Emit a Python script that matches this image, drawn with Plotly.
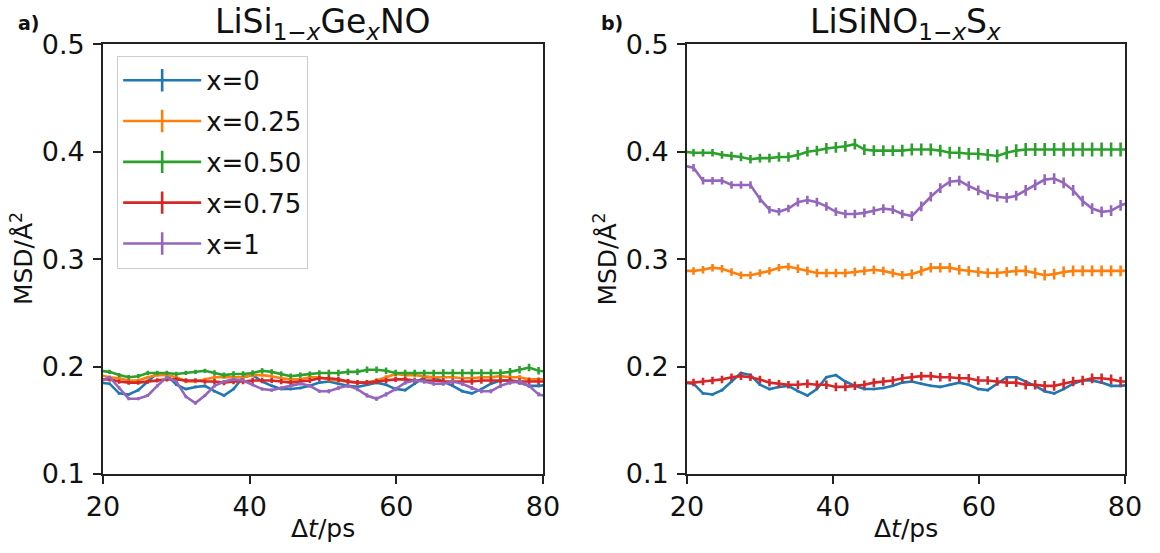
import plotly.graph_objects as go

# Lag times (ps) of the MSD samples
t = [19.6, 20.9, 22.2, 23.5, 24.8, 26.1, 27.4, 28.7, 30.0, 31.3, 32.6, 33.9,
     35.2, 36.5, 37.8, 39.1, 40.4, 41.7, 43.0, 44.3, 45.6, 46.9, 48.2, 49.5,
     50.8, 52.1, 53.4, 54.7, 56.0, 57.3, 58.6, 59.9, 61.2, 62.5, 63.8, 65.1,
     66.4, 67.7, 69.0, 70.3, 71.6, 72.9, 74.2, 75.5, 76.8, 78.1, 79.4, 80.7]

# x = 0 is the parent LiSiNO, shared by both panels
msd_x0 = [0.185, 0.184, 0.175, 0.174, 0.178, 0.186, 0.194, 0.192, 0.183, 0.179, 0.181, 0.182,
          0.177, 0.173, 0.179, 0.190, 0.192, 0.186, 0.182, 0.179, 0.179, 0.180, 0.182, 0.185,
          0.186, 0.184, 0.182, 0.181, 0.183, 0.185, 0.183, 0.179, 0.178, 0.184, 0.190, 0.190,
          0.186, 0.182, 0.177, 0.175, 0.179, 0.184, 0.187, 0.187, 0.185, 0.182, 0.182, 0.183]
err_x0 = [0.0012, 0.0012, 0.0012, 0.0012, 0.0012, 0.0012, 0.0012, 0.0012, 0.0012, 0.0012, 0.0012, 0.0012,
          0.0012, 0.0012, 0.0012, 0.0012, 0.0012, 0.0012, 0.0012, 0.0012, 0.0012, 0.0012, 0.0012, 0.0012,
          0.0012, 0.0012, 0.0012, 0.0012, 0.0012, 0.0012, 0.0012, 0.0012, 0.0012, 0.0012, 0.0012, 0.0012,
          0.0012, 0.0012, 0.0012, 0.0012, 0.0012, 0.0012, 0.0012, 0.0012, 0.0012, 0.0012, 0.0012, 0.0012]

# Panel a) LiSi(1-x)Ge(x)NO
ge_025 = [0.192, 0.190, 0.189, 0.187, 0.187, 0.190, 0.192, 0.192, 0.190, 0.186, 0.186, 0.188,
          0.190, 0.190, 0.190, 0.190, 0.192, 0.192, 0.191, 0.189, 0.188, 0.188, 0.190, 0.190,
          0.188, 0.187, 0.186, 0.185, 0.185, 0.187, 0.190, 0.193, 0.192, 0.192, 0.191, 0.190,
          0.190, 0.190, 0.189, 0.189, 0.190, 0.190, 0.191, 0.190, 0.190, 0.188, 0.188, 0.188]
ge_050 = [0.196, 0.195, 0.192, 0.190, 0.191, 0.194, 0.194, 0.194, 0.193, 0.194, 0.195, 0.196,
          0.194, 0.192, 0.193, 0.193, 0.194, 0.196, 0.195, 0.193, 0.191, 0.192, 0.193, 0.194,
          0.194, 0.194, 0.195, 0.195, 0.197, 0.197, 0.196, 0.194, 0.194, 0.194, 0.194, 0.194,
          0.194, 0.194, 0.194, 0.194, 0.194, 0.194, 0.194, 0.195, 0.197, 0.199, 0.196, 0.195]
ge_075 = [0.188, 0.188, 0.186, 0.185, 0.185, 0.186, 0.187, 0.188, 0.188, 0.187, 0.187, 0.186,
          0.186, 0.185, 0.186, 0.186, 0.187, 0.187, 0.187, 0.186, 0.185, 0.186, 0.187, 0.189,
          0.189, 0.188, 0.186, 0.185, 0.185, 0.186, 0.187, 0.188, 0.188, 0.187, 0.187, 0.187,
          0.186, 0.186, 0.186, 0.186, 0.187, 0.187, 0.187, 0.187, 0.186, 0.186, 0.186, 0.186]
ge_100 = [0.186, 0.190, 0.180, 0.170, 0.170, 0.173, 0.182, 0.190, 0.186, 0.172, 0.166, 0.173,
          0.182, 0.186, 0.188, 0.187, 0.183, 0.179, 0.178, 0.180, 0.182, 0.184, 0.182, 0.177,
          0.177, 0.180, 0.182, 0.179, 0.173, 0.170, 0.174, 0.179, 0.185, 0.187, 0.186, 0.184,
          0.184, 0.186, 0.184, 0.180, 0.177, 0.177, 0.182, 0.185, 0.186, 0.182, 0.174, 0.172]
err_ge_025 = [0.0015, 0.0015, 0.0015, 0.0015, 0.0015, 0.0015, 0.0015, 0.0015, 0.0015, 0.0015, 0.0015, 0.0015,
              0.0015, 0.0015, 0.0015, 0.0015, 0.0015, 0.0015, 0.0015, 0.0015, 0.0015, 0.0015, 0.0015, 0.0015,
              0.002, 0.002, 0.002, 0.002, 0.002, 0.002, 0.002, 0.002, 0.002, 0.002, 0.002, 0.002,
              0.002, 0.002, 0.002, 0.002, 0.002, 0.002, 0.002, 0.002, 0.002, 0.002, 0.002, 0.002]
err_ge_050 = [0.002, 0.002, 0.002, 0.002, 0.002, 0.002, 0.002, 0.002, 0.002, 0.002, 0.002, 0.002,
              0.0025, 0.0025, 0.0025, 0.0025, 0.0025, 0.0025, 0.0025, 0.0025, 0.0025, 0.0025, 0.0025, 0.0025,
              0.003, 0.003, 0.003, 0.003, 0.003, 0.003, 0.003, 0.003, 0.003, 0.003, 0.003, 0.003,
              0.0035, 0.0035, 0.0035, 0.0035, 0.0035, 0.0035, 0.0035, 0.0035, 0.0035, 0.0035, 0.0035, 0.0035]
err_ge_075 = [0.002, 0.002, 0.002, 0.002, 0.002, 0.002, 0.002, 0.002, 0.002, 0.002, 0.002, 0.002,
              0.0025, 0.0025, 0.0025, 0.0025, 0.0025, 0.0025, 0.0025, 0.0025, 0.0025, 0.0025, 0.0025, 0.0025,
              0.0025, 0.0025, 0.0025, 0.0025, 0.0025, 0.0025, 0.0025, 0.0025, 0.0025, 0.0025, 0.0025, 0.0025,
              0.003, 0.003, 0.003, 0.003, 0.003, 0.003, 0.003, 0.003, 0.003, 0.003, 0.003, 0.003]
err_ge_100 = [0.0015, 0.0015, 0.0015, 0.0015, 0.0015, 0.0015, 0.0015, 0.0015, 0.0015, 0.0015, 0.0015, 0.0015,
              0.0015, 0.0015, 0.0015, 0.0015, 0.0015, 0.0015, 0.0015, 0.0015, 0.0015, 0.0015, 0.0015, 0.0015,
              0.002, 0.002, 0.002, 0.002, 0.002, 0.002, 0.002, 0.002, 0.002, 0.002, 0.002, 0.002,
              0.002, 0.002, 0.002, 0.002, 0.002, 0.002, 0.002, 0.002, 0.002, 0.002, 0.002, 0.002]

# Panel b) LiSiNO(1-x)S(x)
s_025 = [0.289, 0.289, 0.290, 0.292, 0.291, 0.288, 0.285, 0.285, 0.287, 0.289, 0.292, 0.293,
         0.291, 0.289, 0.287, 0.287, 0.287, 0.287, 0.288, 0.289, 0.290, 0.289, 0.287, 0.285,
         0.286, 0.289, 0.292, 0.292, 0.292, 0.290, 0.289, 0.288, 0.287, 0.287, 0.288, 0.289,
         0.289, 0.287, 0.285, 0.286, 0.288, 0.289, 0.289, 0.289, 0.289, 0.289, 0.289, 0.289]
s_050 = [0.400, 0.399, 0.399, 0.399, 0.397, 0.396, 0.395, 0.393, 0.394, 0.394, 0.395, 0.395,
         0.397, 0.400, 0.401, 0.403, 0.404, 0.405, 0.407, 0.402, 0.401, 0.401, 0.401, 0.401,
         0.402, 0.402, 0.402, 0.401, 0.399, 0.399, 0.398, 0.398, 0.397, 0.396, 0.399, 0.401,
         0.402, 0.402, 0.402, 0.402, 0.402, 0.402, 0.402, 0.402, 0.402, 0.402, 0.402, 0.402]
s_075 = [0.185, 0.185, 0.186, 0.187, 0.188, 0.190, 0.191, 0.190, 0.188, 0.185, 0.184, 0.183,
         0.183, 0.184, 0.183, 0.183, 0.181, 0.181, 0.182, 0.183, 0.185, 0.186, 0.187, 0.189,
         0.190, 0.191, 0.191, 0.190, 0.190, 0.189, 0.189, 0.187, 0.187, 0.186, 0.185, 0.185,
         0.183, 0.183, 0.182, 0.182, 0.184, 0.186, 0.187, 0.189, 0.189, 0.188, 0.186, 0.186]
s_100 = [0.387, 0.385, 0.373, 0.373, 0.373, 0.369, 0.369, 0.369, 0.356, 0.346, 0.344, 0.347,
         0.353, 0.355, 0.353, 0.349, 0.344, 0.342, 0.342, 0.343, 0.345, 0.347, 0.346, 0.342,
         0.340, 0.349, 0.358, 0.366, 0.372, 0.373, 0.368, 0.364, 0.360, 0.358, 0.357, 0.359,
         0.364, 0.369, 0.374, 0.375, 0.371, 0.364, 0.354, 0.347, 0.344, 0.345, 0.350, 0.353]
err_s_025 = [0.0035, 0.0035, 0.0035, 0.0035, 0.0035, 0.0035, 0.0035, 0.0035, 0.0035, 0.0035, 0.0035, 0.0035,
             0.004, 0.004, 0.004, 0.004, 0.004, 0.004, 0.004, 0.004, 0.004, 0.004, 0.004, 0.004,
             0.0045, 0.0045, 0.0045, 0.0045, 0.0045, 0.0045, 0.0045, 0.0045, 0.0045, 0.0045, 0.0045, 0.0045,
             0.005, 0.005, 0.005, 0.005, 0.005, 0.005, 0.005, 0.005, 0.005, 0.005, 0.005, 0.005]
err_s_050 = [0.0035, 0.0035, 0.0035, 0.0035, 0.0035, 0.004, 0.004, 0.004, 0.004, 0.004, 0.0045, 0.0045,
             0.0045, 0.0045, 0.0045, 0.005, 0.005, 0.005, 0.005, 0.005, 0.005, 0.005, 0.005, 0.0055,
             0.0055, 0.0055, 0.0055, 0.0055, 0.0055, 0.0055, 0.0055, 0.0055, 0.0055, 0.006, 0.006, 0.006,
             0.006, 0.006, 0.006, 0.006, 0.0065, 0.0065, 0.0065, 0.0065, 0.0065, 0.0065, 0.0065, 0.0065]
err_s_075 = [0.0035, 0.0035, 0.0035, 0.0035, 0.0035, 0.0035, 0.0035, 0.0035, 0.0035, 0.0035, 0.0035, 0.0035,
             0.004, 0.004, 0.004, 0.004, 0.004, 0.004, 0.004, 0.004, 0.004, 0.004, 0.004, 0.004,
             0.004, 0.004, 0.004, 0.004, 0.004, 0.004, 0.004, 0.004, 0.004, 0.004, 0.004, 0.004,
             0.0045, 0.0045, 0.0045, 0.0045, 0.0045, 0.0045, 0.0045, 0.0045, 0.0045, 0.0045, 0.0045, 0.0045]
err_s_100 = [0.0035, 0.0035, 0.0035, 0.0035, 0.0035, 0.0035, 0.0035, 0.0035, 0.0035, 0.0035, 0.0035, 0.0035,
             0.004, 0.004, 0.004, 0.004, 0.004, 0.004, 0.004, 0.004, 0.004, 0.004, 0.004, 0.004,
             0.0045, 0.0045, 0.0045, 0.0045, 0.0045, 0.0045, 0.0045, 0.0045, 0.0045, 0.0045, 0.0045, 0.0045,
             0.005, 0.005, 0.005, 0.005, 0.005, 0.005, 0.005, 0.005, 0.005, 0.005, 0.005, 0.005]

labels = ["x=0", "x=0.25", "x=0.50", "x=0.75", "x=1"]
colors = ["#1f77b4", "#ff7f0e", "#2ca02c", "#d62728", "#9467bd"]

panel_a = [(msd_x0, err_x0), (ge_025, err_ge_025), (ge_050, err_ge_050),
           (ge_075, err_ge_075), (ge_100, err_ge_100)]
panel_b = [(msd_x0, err_x0), (s_025, err_s_025), (s_050, err_s_050),
           (s_075, err_s_075), (s_100, err_s_100)]

FONT = "DejaVu Sans"
LW = 2.6

fig = go.Figure()

for xa, ya, series in (("x", "y", panel_a), ("x2", "y2", panel_b)):
    for (vals, errs), c in zip(series, colors):
        fig.add_trace(go.Scatter(
            x=t, y=vals, xaxis=xa, yaxis=ya, mode="lines",
            line=dict(color=c, width=LW),
            error_y=dict(type="data", array=errs, visible=True,
                         color=c, thickness=LW, width=0),
            showlegend=False, hoverinfo="skip",
        ))

# Legend entries drawn as line + vertical error tick
for i, (lab, c) in enumerate(zip(labels, colors)):
    fig.add_trace(go.Scatter(
        x=[None], y=[None], mode="lines+markers", name=lab,
        legendgroup=f"g{i}",
        line=dict(color=c, width=LW),
        marker=dict(symbol="line-ns", size=27, color=c,
                    line=dict(color=c, width=LW)),
        xaxis="x", yaxis="y",
    ))

axis_common = dict(
    showline=True, mirror=True, linecolor="#222", linewidth=1.6,
    ticks="outside", ticklen=8, tickwidth=1.6, tickcolor="#222",
    showgrid=False, zeroline=False, automargin=False,
    tickfont=dict(family=FONT, size=27, color="#111"),
)

Y0, Y1 = 0.143, 0.920
fig.update_layout(
    width=1160, height=553,
    margin=dict(l=0, r=0, t=0, b=0, autoexpand=False),
    paper_bgcolor="white", plot_bgcolor="white",
    xaxis=dict(domain=[0.0888, 0.4681], range=[20, 80],
               tickvals=[20, 40, 60, 80], anchor="y", **axis_common),
    yaxis=dict(domain=[Y0, Y1], range=[0.1, 0.5], ticklabelstandoff=3,
               tickvals=[0.1, 0.2, 0.3, 0.4, 0.5], anchor="x", **axis_common),
    xaxis2=dict(domain=[0.5922, 0.9698], range=[20, 80],
                tickvals=[20, 40, 60, 80], anchor="y2", **axis_common),
    yaxis2=dict(domain=[Y0, Y1], range=[0.1, 0.5], ticklabelstandoff=3,
                tickvals=[0.1, 0.2, 0.3, 0.4, 0.5], anchor="x2", **axis_common),
    legend=dict(
        x=0.101, y=0.899, xanchor="left", yanchor="top",
        bgcolor="white", bordercolor="#cccccc", borderwidth=1,
        font=dict(family=FONT, size=26, color="#111"),
        traceorder="grouped", tracegroupgap=4,
        itemwidth=78,
    ),
    font=dict(family=FONT, color="#111"),
)

ann = []
title_font = dict(family=FONT, size=33, color="#111")
label_font = dict(family=FONT, size=25, color="#111")
ann.append(dict(text="LiSi<sub>1\u2212<i>x</i></sub>Ge<sub><i>x</i></sub>NO",
                x=0.2785, y=1.0, xref="paper", yref="paper",
                xanchor="center", yanchor="top", yshift=0,
                showarrow=False, font=title_font))
ann.append(dict(text="LiSiNO<sub>1\u2212<i>x</i></sub>S<sub><i>x</i></sub>",
                x=0.781, y=1.0, xref="paper", yref="paper",
                xanchor="center", yanchor="top", yshift=0,
                showarrow=False, font=title_font))
ann.append(dict(text="<b>a)</b>", x=0.014, y=0.982, xref="paper", yref="paper",
                xanchor="left", yanchor="top", showarrow=False,
                font=dict(family=FONT, size=19, color="#111")))
ann.append(dict(text="<b>b)</b>", x=0.516, y=0.982, xref="paper", yref="paper",
                xanchor="left", yanchor="top", showarrow=False,
                font=dict(family=FONT, size=19, color="#111")))
for xc in (0.2785, 0.781):
    ann.append(dict(text="\u0394<i>t</i>/ps", x=xc, y=0.0, xref="paper", yref="paper",
                    xanchor="center", yanchor="bottom", yshift=8,
                    showarrow=False, font=label_font))
for xc in (0.019, 0.522):
    ann.append(dict(text="MSD/Å<sup>2</sup>", x=xc, y=(Y0 + Y1) / 2,
                    xref="paper", yref="paper", textangle=-90,
                    xanchor="center", yanchor="middle",
                    showarrow=False, font=label_font))
fig.update_layout(annotations=ann)

fig.write_html("out.html")
